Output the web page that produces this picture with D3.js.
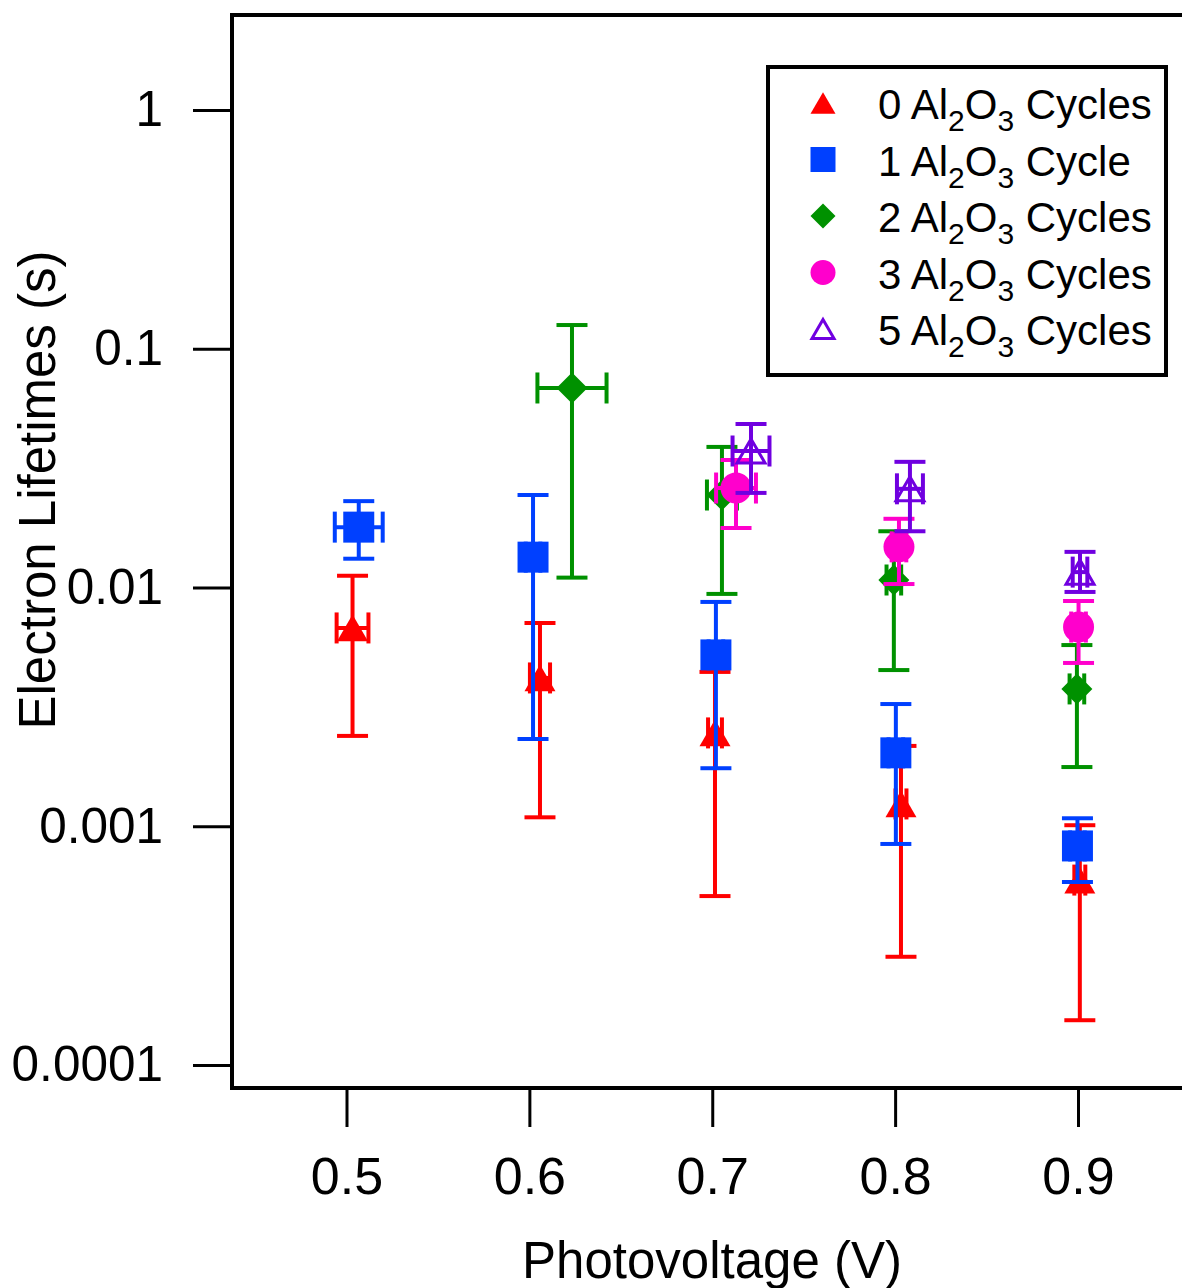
<!DOCTYPE html>
<html>
<head>
<meta charset="utf-8">
<script src="https://cdn.jsdelivr.net/npm/d3@7"></script>
<style>
  body { margin: 0; background: #fff; }
  svg { display: block; }
  text { font-family: "Liberation Sans", Arial, sans-serif; fill: #000; }
</style>
</head>
<body>
<svg id="chart" width="1182" height="1288"></svg>
<script>
// ---- data: photovoltage (V), lifetime (s), lifetime error ends, voltage half-error ----
const seriesNames = ["0", "1", "2", "3", "5"];
const seriesSuffix = [" Cycles", " Cycle", " Cycles", " Cycles", " Cycles"];
const seriesColors = ["#ff0000", "#0040ff", "#009100", "#ff00cc", "#7000e0"];
const seriesMarkers = ["triangle", "square", "diamond", "circle", "openTriangle"];

const volt0 = [0.5033, 0.6058, 0.7015, 0.8032, 0.9010];
const tau0  = [0.00677, 0.00418, 0.00246, 0.00124, 0.000595];
const tau0Hi = [0.0112, 0.0071, 0.00443, 0.00217, 0.00101];
const tau0Lo = [0.00239, 0.00109, 0.00051, 0.000284, 0.000154];
const dV0   = [0.0087, 0.0055, 0.0038, 0.003, 0.003];

const volt1 = [0.5067, 0.6020, 0.7020, 0.8004, 0.8997];
const tau1  = [0.0179, 0.0134, 0.00522, 0.00203, 0.000827];
const tau1Hi = [0.0230, 0.0244, 0.0087, 0.00325, 0.00108];
const tau1Lo = [0.0132, 0.00232, 0.00175, 0.000843, 0.000584];
const dV1   = [0.0131, 0.004, 0.004, 0.004, 0.004];

const volt2 = [0.6233, 0.7053, 0.7993, 0.8994];
const tau2  = [0.0685, 0.0244, 0.01075, 0.00376];
const tau2Hi = [0.1257, 0.0388, 0.0172, 0.00574];
const tau2Lo = [0.0110, 0.0094, 0.00451, 0.00177];
const dV2   = [0.0189, 0.0082, 0.004, 0.004];

const volt3 = [0.7130, 0.8021, 0.9003];
const tau3  = [0.0261, 0.0148, 0.00683];
const tau3Hi = [0.0342, 0.0194, 0.00878];
const tau3Lo = [0.01775, 0.01034, 0.00483];
const dV3   = [0.0109, 0.004, 0.004];

const volt5 = [0.7212, 0.8081, 0.9011];
const tau5  = [0.0373, 0.0259, 0.0116];
const tau5Hi = [0.0484, 0.0336, 0.0141];
const tau5Lo = [0.0249, 0.0172, 0.00958];
const dV5   = [0.0101, 0.0071, 0.004];

const xTicks = [0.5, 0.6, 0.7, 0.8, 0.9];
const xTickLabels = ["0.5", "0.6", "0.7", "0.8", "0.9"];
const yTicks = [1, 0.1, 0.01, 0.001, 0.0001];
const yTickLabels = ["1", "0.1", "0.01", "0.001", "0.0001"];

const seriesData = [
  [volt0, tau0, tau0Lo, tau0Hi, dV0],
  [volt1, tau1, tau1Lo, tau1Hi, dV1],
  [volt2, tau2, tau2Lo, tau2Hi, dV2],
  [volt3, tau3, tau3Lo, tau3Hi, dV3],
  [volt5, tau5, tau5Lo, tau5Hi, dV5]
].map(([v, t, lo, hi, dv]) => v.map((d, i) => ({ v: d, t: t[i], lo: lo[i], hi: hi[i], dv: dv[i] })));

// ---- layout ----
const frame = { left: 232, top: 15, bottom: 1088, right: 1200 };

const svg = d3.select("#chart");

const x = d3.scaleLinear().domain([0.5, 0.9]).range([346.5, 1078]);
const y = d3.scaleLog().domain([1, 0.0001]).range([110, 1065]);

// ---- marker shapes ----
function markerPath(type, s) {
  const h = s / 2;
  switch (type) {
    case "square":
      return `M${-h},${-h}H${h}V${h}H${-h}Z`;
    case "diamond":
      return `M0,${-h}L${h},0L0,${h}L${-h},0Z`;
    case "circle":
      return `M${h},0A${h},${h} 0 1,1 ${-h},0A${h},${h} 0 1,1 ${h},0Z`;
    default: {
      const th = s * 0.86 / 2;
      return `M0,${-th}L${h},${th}L${-h},${th}Z`;
    }
  }
}

function drawMarker(g, type, color, cx, cy, size) {
  const open = type === "openTriangle";
  g.append("path")
    .attr("transform", `translate(${cx},${cy})`)
    .attr("d", markerPath(type, open ? size - 3 : size))
    .attr("fill", open ? "none" : color)
    .attr("stroke", open ? color : "none")
    .attr("stroke-width", open ? 3 : 0)
    .attr("stroke-linejoin", "miter");
}

// ---- axes ----
const yAxis = svg.append("g")
  .attr("transform", `translate(${frame.left},0)`)
  .call(d3.axisLeft(y).tickValues(yTicks)
    .tickFormat((d, i) => yTickLabels[i]).tickSize(39).tickPadding(30));
yAxis.select(".domain").remove();
yAxis.selectAll(".tick line").attr("stroke", "#000").attr("stroke-width", 3);
yAxis.selectAll(".tick text")
  .attr("font-family", "Liberation Sans, Arial, sans-serif")
  .attr("font-size", 49.5).attr("fill", "#000");

const xAxis = svg.append("g")
  .attr("transform", `translate(0,${frame.bottom})`)
  .call(d3.axisBottom(x).tickValues(xTicks)
    .tickFormat((d, i) => xTickLabels[i]).tickSize(39).tickPadding(30));
xAxis.select(".domain").remove();
xAxis.selectAll(".tick line").attr("stroke", "#000").attr("stroke-width", 3);
xAxis.selectAll(".tick text")
  .attr("font-family", "Liberation Sans, Arial, sans-serif")
  .attr("font-size", 52).attr("fill", "#000");

// plot frame (right side runs off the canvas)
const frameG = svg.append("g").attr("stroke", "#000").attr("stroke-width", 4).attr("fill", "none");
frameG.append("line").attr("x1", frame.left).attr("x2", frame.right).attr("y1", frame.top).attr("y2", frame.top);
frameG.append("line").attr("x1", frame.left).attr("x2", frame.right).attr("y1", frame.bottom).attr("y2", frame.bottom);
frameG.append("line").attr("x1", frame.left).attr("x2", frame.left).attr("y1", frame.top - 2).attr("y2", frame.bottom + 2);

// axis titles
svg.append("text")
  .attr("x", 712).attr("y", 1278)
  .attr("text-anchor", "middle").attr("font-size", 51)
  .text("Photovoltage (V)");
svg.append("text")
  .attr("transform", "translate(55,490) rotate(-90)")
  .attr("text-anchor", "middle").attr("font-size", 51)
  .text("Electron Lifetimes (s)");

// ---- data series: error bars beneath each marker ----
const capLen = 31, barW = 4, markerSize = 31;
seriesData.forEach((pts, si) => {
  const color = seriesColors[si];
  const g = svg.append("g");
  pts.forEach(p => {
    const cx = x(p.v), cy = y(p.t);
    const eb = g.append("g").attr("stroke", color).attr("stroke-width", barW).attr("fill", "none");
    // vertical error bar
    eb.append("line").attr("x1", cx).attr("x2", cx).attr("y1", y(p.hi)).attr("y2", y(p.lo));
    eb.append("line").attr("x1", cx - capLen / 2).attr("x2", cx + capLen / 2).attr("y1", y(p.hi)).attr("y2", y(p.hi));
    eb.append("line").attr("x1", cx - capLen / 2).attr("x2", cx + capLen / 2).attr("y1", y(p.lo)).attr("y2", y(p.lo));
    // horizontal error bar
    const xl = x(p.v - p.dv), xr = x(p.v + p.dv);
    eb.append("line").attr("x1", xl).attr("x2", xr).attr("y1", cy).attr("y2", cy);
    eb.append("line").attr("x1", xl).attr("x2", xl).attr("y1", cy - capLen / 2).attr("y2", cy + capLen / 2);
    eb.append("line").attr("x1", xr).attr("x2", xr).attr("y1", cy - capLen / 2).attr("y2", cy + capLen / 2);
    drawMarker(g, seriesMarkers[si], color, cx, cy, markerSize);
  });
});

// ---- legend ----
const legend = svg.append("g");
legend.append("rect")
  .attr("x", 768).attr("y", 67).attr("width", 398).attr("height", 308)
  .attr("fill", "#fff").attr("stroke", "#000").attr("stroke-width", 4);

const rowBase = [119, 175.5, 232, 288.5, 345];
seriesNames.forEach((name, i) => {
  const by = rowBase[i];
  drawMarker(legend, seriesMarkers[i], seriesColors[i], 823, by - 16, 25);
  const t = legend.append("text")
    .attr("x", 878).attr("y", by)
    .attr("font-size", 42)
    .style("white-space", "pre");
  t.append("tspan").text(name + " Al");
  t.append("tspan").attr("font-size", 30).attr("dy", 12).text("2");
  t.append("tspan").attr("dy", -12).text("O");
  t.append("tspan").attr("font-size", 30).attr("dy", 12).text("3");
  t.append("tspan").attr("dy", -12).text(seriesSuffix[i]);
});
</script>
</body>
</html>
